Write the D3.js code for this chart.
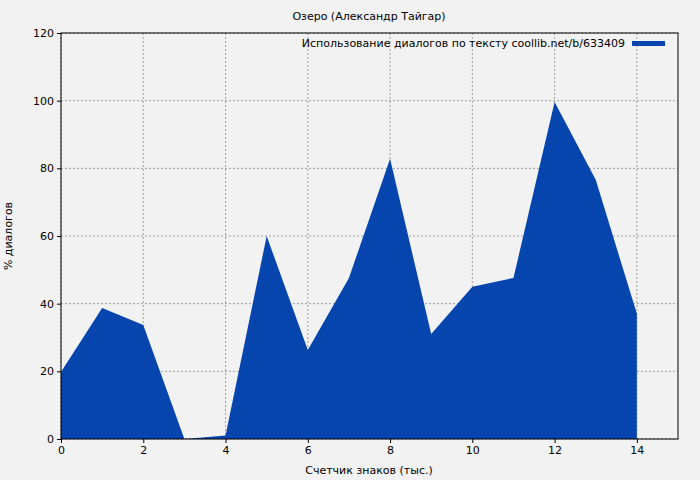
<!DOCTYPE html>
<html><head><meta charset="utf-8">
<script src="https://cdn.jsdelivr.net/npm/d3@7.9.0/dist/d3.min.js"></script>
<style>body{margin:0;background:#f2f2f2}text{font-family:"DejaVu Sans",sans-serif}</style>
</head><body><svg width="700" height="480"></svg>
<script>
const xs = [0,1,2,3,4,5,6,7,8,9,10,11,12,13,14];
const values = [19.8,38.7,33.7,0,1,60,26.3,47.6,82.8,31,45,47.6,99.6,76.6,37];
const xTicks = [0,2,4,6,8,10,12,14];
const yTicks = [0,20,40,60,80,100,120];

const svg = d3.select("svg");
const m = {l:61, r:678, t:33, b:439};
const x = d3.scaleLinear().domain([0,15]).range([m.l,m.r]);
const y = d3.scaleLinear().domain([0,120]).range([m.b,m.t]);

svg.append("rect").attr("width",700).attr("height",480).attr("fill","#f2f2f2");

const grid = svg.append("g").attr("stroke","#888").attr("stroke-dasharray","2,2").attr("stroke-width",0.8);
xTicks.forEach(t => grid.append("line").attr("x1",x(t)).attr("x2",x(t)).attr("y1",m.t).attr("y2",m.b));
yTicks.forEach(t => grid.append("line").attr("x1",m.l).attr("x2",m.r).attr("y1",y(t)).attr("y2",y(t)));

const area = d3.area().x((d,i)=>x(xs[i])).y0(y(0)).y1(d=>y(d));
svg.append("path").attr("d",area(values)).attr("fill","#0645ad");

svg.append("rect").attr("x",m.l).attr("y",m.t).attr("width",m.r-m.l).attr("height",m.b-m.t)
  .attr("fill","none").attr("stroke","#000");

svg.append("g").attr("transform",`translate(0,${m.b})`)
  .call(d3.axisBottom(x).tickValues(xTicks).tickSize(4).tickSizeOuter(0))
  .call(g=>{g.select(".domain").remove();g.selectAll("text").attr("font-size",11).attr("fill","#000");});
svg.append("g").attr("transform",`translate(${m.l},0)`)
  .call(d3.axisLeft(y).tickValues(yTicks).tickSize(4).tickSizeOuter(0))
  .call(g=>{g.select(".domain").remove();g.selectAll("text").attr("font-size",11).attr("fill","#000");});

svg.append("text").attr("x",369).attr("y",20).attr("text-anchor","middle").attr("font-size",11).text("Озеро (Александр Тайгар)");
svg.append("text").attr("x",369).attr("y",474).attr("text-anchor","middle").attr("font-size",11).text("Счетчик знаков (тыс.)");
svg.append("text").attr("transform","translate(12,236) rotate(-90)").attr("text-anchor","middle").attr("font-size",11).text("% диалогов");

svg.append("text").attr("x",625).attr("y",47).attr("text-anchor","end").attr("font-size",11).text("Использование диалогов по тексту coollib.net/b/633409");
svg.append("rect").attr("x",632).attr("y",41).attr("width",33).attr("height",5).attr("fill","#0645ad");
</script></body></html>
